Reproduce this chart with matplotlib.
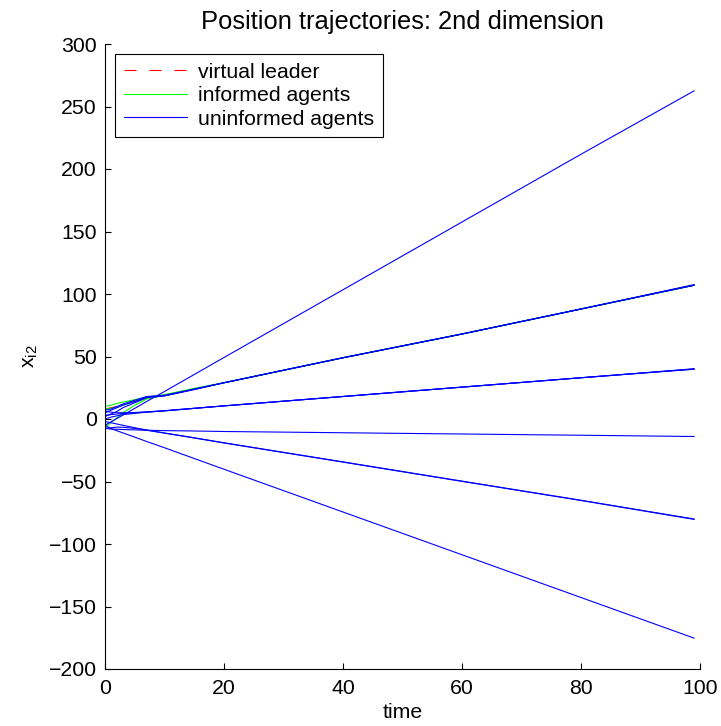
import numpy as np
import matplotlib
matplotlib.use('Agg')
import matplotlib.pyplot as plt

plt.rcParams['font.family'] = ['Liberation Sans', 'DejaVu Sans']
plt.rcParams['font.size'] = 15.3

# time samples the values were read at
time = [0, 1, 2, 3, 5, 7, 10, 15, 20, 40, 60, 80, 99]

# virtual leader (hidden under the agents in the picture)
leader = [8, 9, 10, 12, 14, 16.5, 19, 24, 29, 49, 68, 88, 107]

# informed agents
informed = [
    [10, 11, 12.5, 13.5, 15.5, 17.5, 19.5, 24.5, 29, 49, 68, 88, 107],
    [8, 8.5, 9.5, 11, 14, 16.5, 18.8, 24, 29, 49, 68, 88, 107],
    [-7, -3, 1, 5, 11, 16, 19, 24, 29, 49, 68, 88, 107],
]

# uninformed agents
uninformed = [
    [5, 7, 9, 11, 14, 17.5, 18.5, 23.5, 29, 49, 68, 88, 107],
    [2, 4, 6, 9, 13, 17, 18.5, 23.8, 29, 49, 68, 88, 107.5],
    [7, 8, 10, 12, 15, 18, 19, 24, 29, 49, 68, 88, 107],
    [3, 3.5, 4, 4.5, 5, 5.5, 6.5, 8.5, 10.5, 18, 25.5, 33, 40],
    [6, 5.5, 5, 5, 5.2, 5.7, 6.7, 8.6, 10.5, 18, 25.5, 33, 40.2],
    [0, 1.5, 2.5, 3.5, 4.5, 5.5, 6.5, 8.5, 10.5, 18, 25.5, 33, 39.8],
    [-7.5, -8, -8.2, -8.4, -8.7, -9, -9.3, -9.6, -10, -11, -12, -13, -14],
    [-2, -3, -4, -5, -7, -8.8, -11.2, -15, -19, -34.3, -49.7, -65, -80],
    [-7.5, -7, -6.5, -6.6, -7.5, -9, -11.3, -15.2, -19.2, -34.5, -49.9, -65.2, -80.3],
    [-5, -7.7, -9.4, -11.1, -14.5, -18, -23, -31.6, -40.2, -74.4, -108.6, -142.8, -175.3],
    [-5, -2.3, 0.4, 3.1, 8.5, 14, 22, 35.6, 49.2, 103.4, 157.6, 211.8, 262.5],
]

fig = plt.figure(figsize=(7.21, 7.26), dpi=100)
ax = fig.add_axes([105/721, 1 - 669/726, 595/721, 625/726])

lw = 0.8
l1, = ax.plot(time, leader, 'r--', lw=lw, dashes=(10.8, 11.7))
for y in informed:
    l2, = ax.plot(time, y, color=(0, 1, 0), lw=lw)
for y in uninformed:
    l3, = ax.plot(time, y, color=(0, 0, 1), lw=lw)

ax.set_xlim(0, 100)
ax.set_ylim(-200, 300)
ax.set_xticks(np.arange(0, 101, 20))
ax.set_yticks(np.arange(-200, 301, 50))
ax.spines['top'].set_visible(False)
ax.spines['right'].set_visible(False)
ax.tick_params(direction='in', length=4, width=0.8)
ax.tick_params(axis='x', pad=7)
ax.tick_params(axis='y', pad=6)

ax.set_xlabel('time', labelpad=4)
ax.set_ylabel(r'$\mathregular{x_{i2}}$', labelpad=6)
ax.set_title('Position trajectories: 2nd dimension', pad=11)

leg = ax.legend([l1, l2, l3], ['virtual leader', 'informed agents', 'uninformed agents'],
                loc='upper left', bbox_to_anchor=(10/595, 1 - 10/625), borderaxespad=0,
                fancybox=False, framealpha=1, edgecolor='black',
                handlelength=3, handletextpad=0.5, borderpad=0.4, labelspacing=0.22)
leg.get_frame().set_linewidth(0.8)

fig.savefig('out.png', dpi=100)
